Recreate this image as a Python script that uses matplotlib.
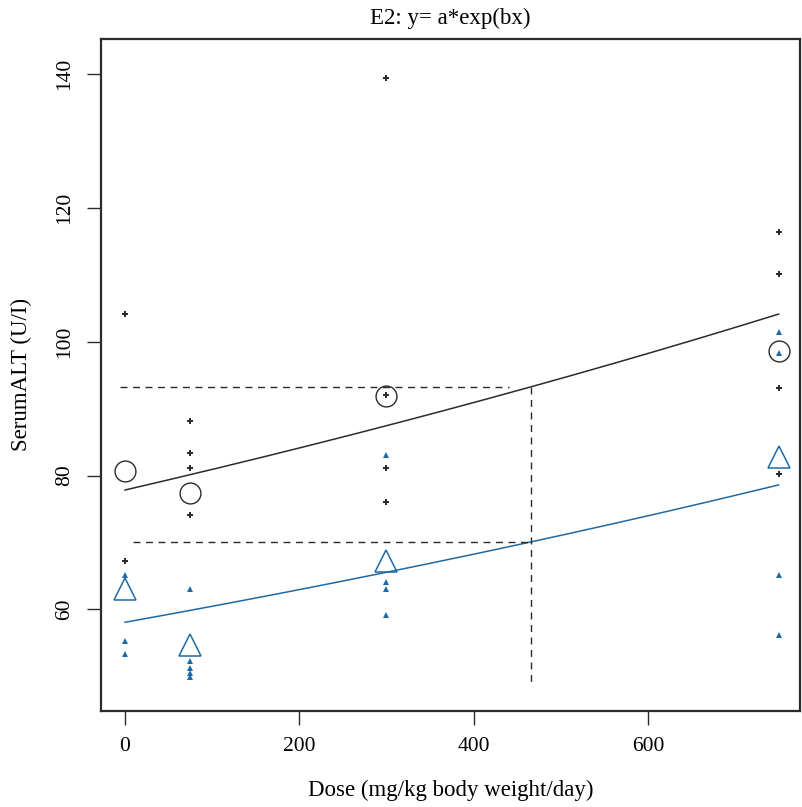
import matplotlib
matplotlib.use("Agg")
import matplotlib.pyplot as plt
import numpy as np

# --- datos ---
dosis = [0, 75, 300, 750]

# puntos individuales (grupo negro)
negro_x = [0, 0, 75, 75, 75, 75, 300, 300, 300, 300, 750, 750, 750, 750]
negro_y = [104.2, 67.2, 88.2, 83.4, 81.2, 74.1, 139.4, 92.1, 81.2, 76.0,
           116.4, 110.2, 93.1, 80.3]

# puntos individuales (grupo azul)
azul_x = [0, 0, 0, 75, 75, 75, 75, 75, 300, 300, 300, 300, 750, 750, 750, 750]
azul_y = [65.2, 55.3, 53.3, 63.1, 52.2, 51.2, 50.5, 49.9, 83.1, 64.1, 63.1, 59.1,
          101.4, 98.3, 65.2, 56.2]

# medias por dosis
media_negro = [80.7, 77.4, 91.9, 98.6]
media_azul = [63.0, 54.6, 67.2, 82.8]

# parametros del modelo y = a*exp(bx)
a_negro, b_negro = 77.84, 3.882e-4
a_azul, b_azul = 58.06, 4.039e-4

# niveles BMR y BMD
bmr_negro = 93.2
bmr_azul = 70.0
bmd = 465.5
x_ini_negro, x_fin_negro = -6, 441
x_ini_azul = 9
y_min_vert = 48.9

azul = '#1f6aa5'
gris = '#2b2b2b'

plt.rcParams['font.family'] = ['Liberation Serif', 'DejaVu Serif']

fig = plt.figure(figsize=(8.02, 8.07), dpi=100)
ax = fig.add_axes([100.7 / 802, 1 - 710.7 / 807, (800 - 100.7) / 802, (710.7 - 39) / 807])

xx = np.linspace(0, 750, 200)
ax.plot(xx, a_negro * np.exp(b_negro * xx), color=gris, lw=1.1)
ax.plot(xx, a_azul * np.exp(b_azul * xx), color=azul, lw=1.1)

# lineas discontinuas BMD
ax.plot([x_ini_negro, x_fin_negro], [bmr_negro, bmr_negro], color=gris, lw=1.0, dashes=(5, 4))
ax.plot([x_ini_azul, bmd], [bmr_azul, bmr_azul], color=gris, lw=1.0, dashes=(5, 4))
ax.plot([bmd, bmd], [bmr_negro, y_min_vert], color=gris, lw=1.0, dashes=(5, 4))

ax.plot(negro_x, negro_y, 'P', color=gris, ms=4.5, mew=0, ls='none')
ax.plot(azul_x, azul_y, '^', color=azul, ms=4.5, mew=0, ls='none')

ax.plot(dosis, media_negro, 'o', mfc='none', mec=gris, ms=15, mew=1.0, ls='none')
ax.plot(dosis, media_azul, '^', mfc='none', mec=azul, ms=16, mew=1.1, ls='none')

ax.set_xlim(-27.9, 774.5)
ax.set_ylim(44.84, 145.28)
ax.set_xticks([0, 200, 400, 600])
ax.set_yticks([60, 80, 100, 120, 140])
ax.tick_params(axis='both', direction='out', length=10, width=1.0, color=gris,
               labelsize=15.5)
ax.tick_params(axis='x', pad=9)
ax.tick_params(axis='y', pad=9)
for lab in ax.get_yticklabels():
    lab.set_rotation(90)
    lab.set_va('center')
for s in ax.spines.values():
    s.set_linewidth(1.6)
    s.set_color(gris)

ax.set_title('E2: y= a*exp(bx)', fontsize=16.5, pad=11)
ax.set_xlabel('Dose (mg/kg body weight/day)', fontsize=16.5, labelpad=17)
ax.set_ylabel('SerumALT (U/I)', fontsize=16.5, labelpad=17)

fig.savefig('out.png', dpi=100)
